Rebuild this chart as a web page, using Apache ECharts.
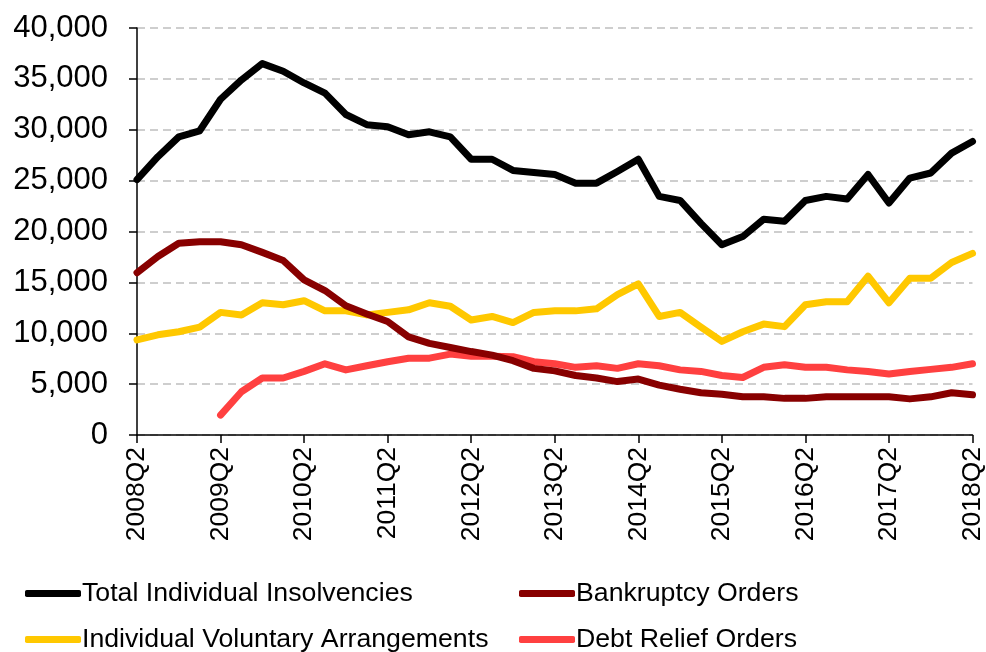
<!DOCTYPE html>
<html>
<head>
<meta charset="utf-8">
<script src="https://cdn.jsdelivr.net/npm/echarts@6/dist/echarts.min.js"></script>
<style>
  html, body { margin: 0; padding: 0; background: #fff; }
  #chart { width: 986px; height: 652px; }
</style>
</head>
<body>
<div id="chart"></div>
<script>
// quarters 2008Q2 .. 2018Q2
var quarters = [];
for (var y = 2008; y <= 2018; y++) {
  for (var q = 1; q <= 4; q++) {
    if ((y === 2008 && q < 2) || (y === 2018 && q > 2)) continue;
    quarters.push(y + 'Q' + q);
  }
}

var totalInsolvencies = [25100, 27350, 29300, 29900, 33000, 34900, 36500, 35750, 34600, 33600,
  31500, 30500, 30300, 29500, 29800, 29300, 27100, 27100, 26000, 25800,
  25600, 24750, 24750, 25900, 27100, 23450, 23050, 20800, 18700, 19500,
  21200, 21000, 23050, 23450, 23200, 25600, 22800, 25250, 25750, 27700, 28850];

var bankruptcyOrders = [15950, 17550, 18850, 19000, 19000, 18700, 17950, 17150, 15250, 14200,
  12700, 11900, 11150, 9650, 9000, 8600, 8200, 7850, 7300, 6550,
  6300, 5850, 5600, 5250, 5500, 4900, 4500, 4150, 4000, 3750,
  3750, 3600, 3600, 3750, 3750, 3750, 3750, 3550, 3750, 4150, 3950];

var ivas = [9350, 9850, 10150, 10600, 12050, 11800, 13000, 12800, 13200, 12200,
  12200, 11800, 12050, 12300, 13000, 12650, 11300, 11650, 11050, 12050,
  12200, 12200, 12400, 13800, 14850, 11650, 12050, 10600, 9200, 10150,
  10900, 10650, 12800, 13100, 13100, 15600, 13000, 15400, 15400, 16950, 17850];

var debtReliefOrders = [null, null, null, null, 1950, 4250, 5600, 5600, 6250, 7000,
  6400, 6800, 7200, 7550, 7550, 7950, 7750, 7750, 7700, 7200,
  7000, 6650, 6800, 6550, 7000, 6800, 6400, 6250, 5850, 5650,
  6650, 6900, 6650, 6650, 6400, 6250, 6000, 6250, 6450, 6650, 7000];

var seriesNames = ['Total Individual Insolvencies', 'Bankruptcy Orders',
  'Individual Voluntary Arrangements', 'Debt Relief Orders'];
var seriesColors = ['#000000', '#880000', '#ffc800', '#ff4040'];
var seriesValues = [totalInsolvencies, bankruptcyOrders, ivas, debtReliefOrders];

var fontFamily = '"Liberation Sans", Arial, sans-serif';

var chart = echarts.init(document.getElementById('chart'));

var series = [];
for (var i = 0; i < seriesNames.length; i++) {
  series.push({
    name: seriesNames[i],
    type: 'line',
    data: seriesValues[i],
    symbol: 'none',
    color: seriesColors[i],
    lineStyle: { color: seriesColors[i], width: 7, cap: 'round', join: 'round' },
    z: 10 - i,
    animation: false
  });
}

function legendAt(name, left, top) {
  return {
    data: [name],
    left: left,
    top: top,
    icon: 'roundRect',
    itemWidth: 56,
    itemHeight: 7,
    itemGap: 0,
    textStyle: { fontSize: 26.7, color: '#000', fontFamily: fontFamily, padding: [0, 0, 0, -4] }
  };
}

chart.setOption({
  backgroundColor: '#fff',
  animation: false,
  grid: { left: 137, right: 13, top: 28, bottom: 217 },
  legend: [
    legendAt(seriesNames[0], 20, 575),
    legendAt(seriesNames[1], 514, 575),
    legendAt(seriesNames[2], 20, 621),
    legendAt(seriesNames[3], 514, 621)
  ],
  xAxis: {
    type: 'category',
    data: quarters,
    boundaryGap: false,
    axisLine: { lineStyle: { color: '#000', width: 1.5 } },
    axisTick: { show: true, interval: 3, length: 8, lineStyle: { color: '#000', width: 1.5 } },
    axisLabel: {
      interval: 3,
      rotate: 90,
      margin: 12,
      fontSize: 26.5,
      color: '#000',
      fontFamily: fontFamily
    },
    splitLine: { show: false }
  },
  yAxis: {
    type: 'value',
    min: 0,
    max: 40000,
    interval: 5000,
    axisLine: { show: true, lineStyle: { color: '#000', width: 1.5 } },
    axisTick: { show: true, length: 8, lineStyle: { color: '#000', width: 1.5 } },
    axisLabel: {
      margin: 29,
      fontSize: 31,
      color: '#000',
      fontFamily: fontFamily,
      formatter: function (v) { return v.toLocaleString('en-GB'); }
    },
    splitLine: { show: true, lineStyle: { color: '#bfbfbf', type: [8, 5], width: 1.5 } }
  },
  series: series
});
</script>
</body>
</html>
